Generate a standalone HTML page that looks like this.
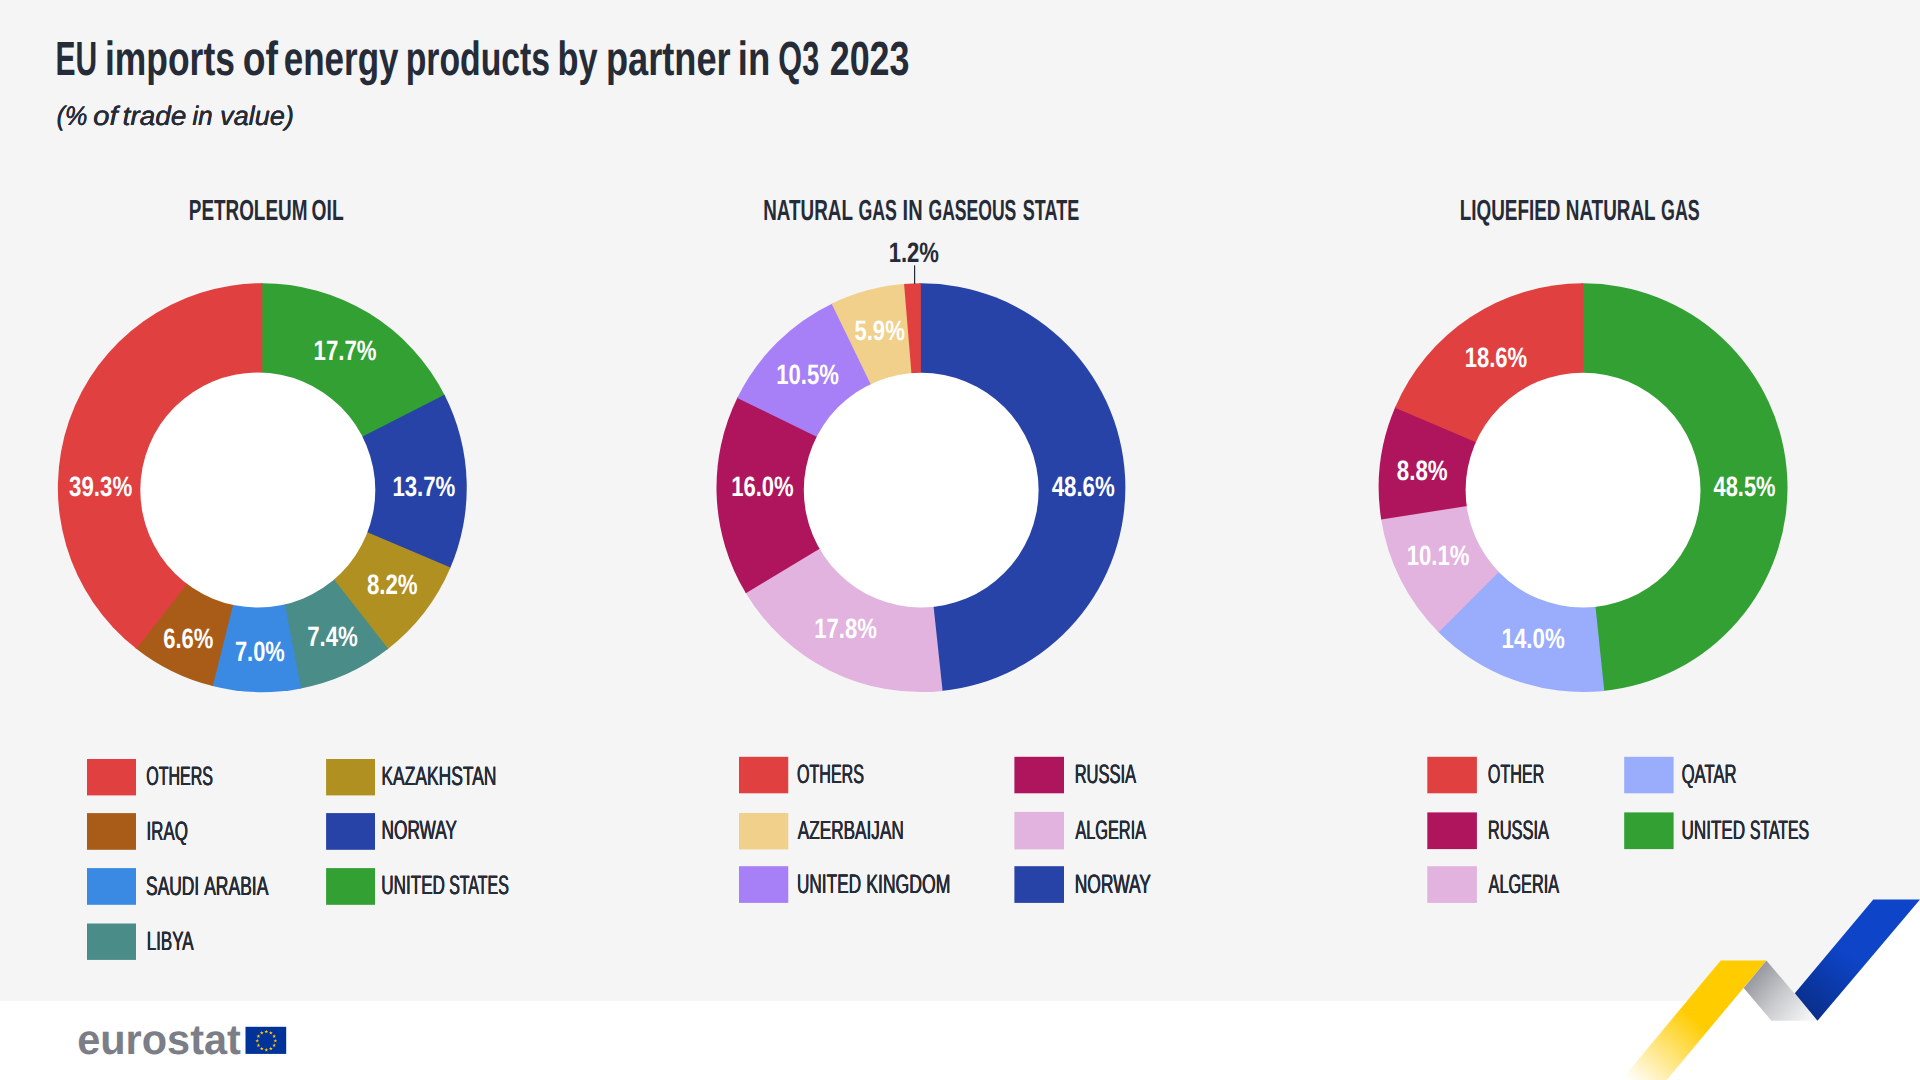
<!DOCTYPE html>
<html lang="en"><head><meta charset="utf-8"><title>EU imports of energy products by partner in Q3 2023</title>
<style>html,body{margin:0;padding:0}
body{width:1920px;height:1080px;position:relative;overflow:hidden;background:#f5f5f5;font-family:"Liberation Sans",sans-serif}
svg{position:absolute;left:0;top:0;display:block}
.g{position:absolute;left:0;top:0;margin:0;font-size:inherit;font-weight:inherit}
.g span{position:absolute;left:0;top:0;white-space:pre;line-height:1;transform-origin:0 0;text-rendering:geometricPrecision}
.h1{color:#262b38;font-weight:bold;font-style:normal}
.sub{color:#262b38;font-weight:normal;font-style:italic}
.ct{color:#262b38;font-weight:bold;font-style:normal}
.lb{color:#ffffff;font-weight:bold;font-style:normal}
.lbd{color:#262b38;font-weight:bold;font-style:normal}
.lg{color:#262b38;font-weight:normal;font-style:normal}
.eu{color:#7b7e87;font-weight:bold;font-style:normal}</style></head><body>
<svg width="1920" height="1080" viewBox="0 0 1920 1080">
<defs>
<linearGradient id="gy" gradientUnits="userSpaceOnUse" x1="1634" y1="1086" x2="1694" y2="1018"><stop offset="0" stop-color="#ffffff"/><stop offset="1" stop-color="#ffcc00"/></linearGradient>
<linearGradient id="gg" gradientUnits="userSpaceOnUse" x1="1750" y1="975" x2="1805" y2="1022"><stop offset="0" stop-color="#94959b"/><stop offset="0.5" stop-color="#c9cacd"/><stop offset="1" stop-color="#f3f4f4"/></linearGradient>
<linearGradient id="gb" gradientUnits="userSpaceOnUse" x1="1806" y1="1010" x2="1850" y2="955"><stop offset="0" stop-color="#0a2f8c"/><stop offset="1" stop-color="#0d44c8"/></linearGradient>
</defs>
<rect x="0" y="1001" width="1920" height="79" fill="#fff"/>
<polygon points="1920,899.5 1817.5,1020.7 1817.5,1080 1920,1080" fill="#fff"/>
<polygon points="1743.7,988.1 1720,1016 1775,1025" fill="#fff"/>
<polygon points="1720.7,960.4 1766.4,960.4 1666.7,1080 1621.3,1080" fill="url(#gy)"/>
<polygon points="1766.4,960.4 1817.5,1020.7 1771.4,1020.7 1743.7,988.1" fill="url(#gg)"/>
<polygon points="1873.3,899.5 1920,899.5 1817.5,1020.7 1794.8,993.3" fill="url(#gb)"/>
<g>
<path d="M262.30,487.65L260.87,283.20A204.45,204.45 0 0 1 445.11,396.11Z" fill="#33a033"/>
<path d="M262.30,487.65L444.47,394.83A204.45,204.45 0 0 1 449.93,568.85Z" fill="#2743a7"/>
<path d="M262.30,487.65L450.50,567.53A204.45,204.45 0 0 1 387.04,649.63Z" fill="#b09020"/>
<path d="M262.30,487.65L388.17,648.76A204.45,204.45 0 0 1 299.73,688.64Z" fill="#4a8c87"/>
<path d="M262.30,487.65L301.14,688.38A204.45,204.45 0 0 1 211.46,685.68Z" fill="#3a8ae4"/>
<path d="M262.30,487.65L212.84,686.03A204.45,204.45 0 0 1 135.31,647.88Z" fill="#a95c18"/>
<path d="M262.30,487.65L136.43,648.76A204.45,204.45 0 0 1 262.30,283.20Z" fill="#e04040"/>
<circle cx="257.8" cy="490.1" r="117.5" fill="#fff"/>
</g>
<g>
<path d="M920.90,487.65L919.47,283.25A204.40,204.40 0 0 1 941.20,691.04Z" fill="#2743a7"/>
<path d="M920.90,487.65L942.62,690.89A204.40,204.40 0 0 1 745.15,592.00Z" fill="#e1b3de"/>
<path d="M920.90,487.65L745.88,593.23A204.40,204.40 0 0 1 737.88,396.64Z" fill="#af155c"/>
<path d="M920.90,487.65L737.25,397.92A204.40,204.40 0 0 1 832.90,303.16Z" fill="#a780f7"/>
<path d="M920.90,487.65L831.62,303.78A204.40,204.40 0 0 1 905.50,283.83Z" fill="#f0d08a"/>
<path d="M920.90,487.65L904.08,283.94A204.40,204.40 0 0 1 920.90,283.25Z" fill="#e04040"/>
<circle cx="921.2" cy="490.1" r="117.4" fill="#fff"/>
</g>
<g>
<path d="M1583.05,487.65L1581.62,283.30A204.35,204.35 0 0 1 1602.88,691.04Z" fill="#33a033"/>
<path d="M1583.05,487.65L1604.30,690.89A204.35,204.35 0 0 1 1437.55,631.13Z" fill="#99adfc"/>
<path d="M1583.05,487.65L1438.55,632.15A204.35,204.35 0 0 1 1381.00,518.21Z" fill="#e1b3de"/>
<path d="M1583.05,487.65L1381.22,519.62A204.35,204.35 0 0 1 1395.51,406.49Z" fill="#af155c"/>
<path d="M1583.05,487.65L1394.94,407.80A204.35,204.35 0 0 1 1583.05,283.30Z" fill="#e04040"/>
<circle cx="1583.05" cy="490.1" r="117.45" fill="#fff"/>
</g>
<rect x="914.0" y="265.4" width="1.2" height="18.6" fill="#262b38"/>
<rect x="87.00" y="759.00" width="49.00" height="36.40" fill="#e04040"/>
<rect x="87.00" y="813.10" width="49.00" height="36.70" fill="#a95c18"/>
<rect x="87.00" y="868.10" width="49.00" height="36.70" fill="#3a8ae4"/>
<rect x="87.00" y="923.50" width="49.00" height="36.40" fill="#4a8c87"/>
<rect x="326.10" y="759.00" width="48.90" height="36.40" fill="#b09020"/>
<rect x="326.10" y="813.10" width="48.90" height="36.70" fill="#2743a7"/>
<rect x="326.10" y="868.10" width="48.90" height="36.70" fill="#33a033"/>
<rect x="739.00" y="756.80" width="49.25" height="36.50" fill="#e04040"/>
<rect x="739.00" y="813.00" width="49.25" height="36.40" fill="#f0d08a"/>
<rect x="739.00" y="866.20" width="49.25" height="36.70" fill="#a780f7"/>
<rect x="1014.40" y="756.80" width="49.60" height="36.50" fill="#af155c"/>
<rect x="1014.40" y="811.90" width="49.60" height="37.50" fill="#e1b3de"/>
<rect x="1014.40" y="866.20" width="49.60" height="36.70" fill="#2743a7"/>
<rect x="1427.30" y="756.80" width="49.60" height="36.50" fill="#e04040"/>
<rect x="1427.30" y="812.40" width="49.60" height="36.70" fill="#af155c"/>
<rect x="1427.30" y="866.20" width="49.60" height="36.70" fill="#e1b3de"/>
<rect x="1624.20" y="756.80" width="49.40" height="36.50" fill="#99adfc"/>
<rect x="1624.20" y="812.40" width="49.40" height="36.70" fill="#33a033"/>
<rect x="245.5" y="1026.8" width="40.7" height="27.1" fill="#003399"/>
<polygon points="266.30,1029.73 266.77,1031.08 268.20,1031.11 267.06,1031.98 267.48,1033.35 266.30,1032.53 265.12,1033.35 265.54,1031.98 264.40,1031.11 265.83,1031.08" fill="#ffcc00"/>
<polygon points="270.84,1030.95 271.31,1032.30 272.74,1032.33 271.60,1033.19 272.01,1034.56 270.84,1033.75 269.66,1034.56 270.07,1033.19 268.93,1032.33 270.36,1032.30" fill="#ffcc00"/>
<polygon points="274.15,1034.26 274.63,1035.62 276.06,1035.65 274.92,1036.51 275.33,1037.88 274.15,1037.06 272.98,1037.88 273.39,1036.51 272.25,1035.65 273.68,1035.62" fill="#ffcc00"/>
<polygon points="275.37,1038.80 275.84,1040.15 277.27,1040.18 276.13,1041.05 276.55,1042.42 275.37,1041.60 274.19,1042.42 274.61,1041.05 273.47,1040.18 274.90,1040.15" fill="#ffcc00"/>
<polygon points="274.15,1043.34 274.63,1044.69 276.06,1044.72 274.92,1045.58 275.33,1046.95 274.15,1046.13 272.98,1046.95 273.39,1045.58 272.25,1044.72 273.68,1044.69" fill="#ffcc00"/>
<polygon points="270.84,1046.65 271.31,1048.01 272.74,1048.04 271.60,1048.90 272.01,1050.27 270.84,1049.45 269.66,1050.27 270.07,1048.90 268.93,1048.04 270.36,1048.01" fill="#ffcc00"/>
<polygon points="266.30,1047.87 266.77,1049.22 268.20,1049.25 267.06,1050.12 267.48,1051.49 266.30,1050.67 265.12,1051.49 265.54,1050.12 264.40,1049.25 265.83,1049.22" fill="#ffcc00"/>
<polygon points="261.76,1046.65 262.24,1048.01 263.67,1048.04 262.53,1048.90 262.94,1050.27 261.76,1049.45 260.59,1050.27 261.00,1048.90 259.86,1048.04 261.29,1048.01" fill="#ffcc00"/>
<polygon points="258.45,1043.34 258.92,1044.69 260.35,1044.72 259.21,1045.58 259.62,1046.95 258.45,1046.13 257.27,1046.95 257.68,1045.58 256.54,1044.72 257.97,1044.69" fill="#ffcc00"/>
<polygon points="257.23,1038.80 257.70,1040.15 259.13,1040.18 257.99,1041.05 258.41,1042.42 257.23,1041.60 256.05,1042.42 256.47,1041.05 255.33,1040.18 256.76,1040.15" fill="#ffcc00"/>
<polygon points="258.45,1034.26 258.92,1035.62 260.35,1035.65 259.21,1036.51 259.62,1037.88 258.45,1037.06 257.27,1037.88 257.68,1036.51 256.54,1035.65 257.97,1035.62" fill="#ffcc00"/>
<polygon points="261.76,1030.95 262.24,1032.30 263.67,1032.33 262.53,1033.19 262.94,1034.56 261.76,1033.75 260.59,1034.56 261.00,1033.19 259.86,1032.33 261.29,1032.30" fill="#ffcc00"/>
</svg>
<h1 class="g h1"><span style="font-size:47.88px;transform:translate(55.38px,36.39px) scaleX(0.6265)">EU</span> <span style="font-size:47.88px;transform:translate(105.03px,36.39px) scaleX(0.7396)">imports</span> <span style="font-size:47.88px;transform:translate(242.73px,36.39px) scaleX(0.7803)">of</span> <span style="font-size:47.88px;transform:translate(283.70px,36.39px) scaleX(0.7315)">energy</span> <span style="font-size:47.88px;transform:translate(405.71px,36.39px) scaleX(0.7047)">products</span> <span style="font-size:47.88px;transform:translate(557.61px,36.39px) scaleX(0.7182)">by</span> <span style="font-size:47.88px;transform:translate(605.97px,36.39px) scaleX(0.7555)">partner</span> <span style="font-size:47.88px;transform:translate(737.77px,36.39px) scaleX(0.7620)">in</span> <span style="font-size:47.88px;transform:translate(778.31px,36.39px) scaleX(0.6399)">Q3</span> <span style="font-size:47.88px;transform:translate(829.66px,36.39px) scaleX(0.7504)">2023</span></h1>
<div class="g sub"><span style="font-size:26.86px;transform:translate(56.56px,103.44px) scaleX(0.9396);text-shadow:0.11px 0 0 currentColor,-0.11px 0 0 currentColor">(%</span> <span style="font-size:26.81px;transform:translate(93.15px,103.44px) scaleX(1.0957);text-shadow:0.09px 0 0 currentColor,-0.09px 0 0 currentColor">of</span> <span style="font-size:26.81px;transform:translate(122.61px,103.44px) scaleX(1.0440);text-shadow:0.10px 0 0 currentColor,-0.10px 0 0 currentColor">trade</span> <span style="font-size:26.82px;transform:translate(192.44px,103.44px) scaleX(0.9694);text-shadow:0.10px 0 0 currentColor,-0.10px 0 0 currentColor">in</span> <span style="font-size:26.84px;transform:translate(220.07px,103.44px) scaleX(1.0110);text-shadow:0.10px 0 0 currentColor,-0.10px 0 0 currentColor">value)</span></div>
<h2 class="g ct"><span style="font-size:29.17px;transform:translate(188.77px,196.99px) scaleX(0.6482)">PETROLEUM</span> <span style="font-size:29.17px;transform:translate(311.57px,196.99px) scaleX(0.6598)">OIL</span></h2>
<h2 class="g ct"><span style="font-size:29.17px;transform:translate(763.23px,196.99px) scaleX(0.6463)">NATURAL</span> <span style="font-size:29.17px;transform:translate(858.42px,196.99px) scaleX(0.6088)">GAS</span> <span style="font-size:29.17px;transform:translate(902.62px,196.99px) scaleX(0.6862)">IN</span> <span style="font-size:29.17px;transform:translate(928.48px,196.99px) scaleX(0.6023)">GASEOUS</span> <span style="font-size:29.17px;transform:translate(1022.84px,196.99px) scaleX(0.6169)">STATE</span></h2>
<h2 class="g ct"><span style="font-size:29.17px;transform:translate(1459.76px,196.99px) scaleX(0.6477)">LIQUEFIED</span> <span style="font-size:29.17px;transform:translate(1565.76px,196.99px) scaleX(0.6474)">NATURAL</span> <span style="font-size:29.17px;transform:translate(1661.07px,196.99px) scaleX(0.6113)">GAS</span></h2>
<div class="g lb"><span style="font-size:28.07px;transform:translate(313.58px,337.20px) scaleX(0.7911)">17.7%</span></div>
<div class="g lb"><span style="font-size:28.07px;transform:translate(392.39px,472.60px) scaleX(0.7915)">13.7%</span></div>
<div class="g lb"><span style="font-size:28.07px;transform:translate(366.89px,570.50px) scaleX(0.7927)">8.2%</span></div>
<div class="g lb"><span style="font-size:28.07px;transform:translate(307.17px,622.70px) scaleX(0.7917)">7.4%</span></div>
<div class="g lb"><span style="font-size:28.07px;transform:translate(234.97px,637.80px) scaleX(0.7779)">7.0%</span></div>
<div class="g lb"><span style="font-size:28.07px;transform:translate(163.17px,625.40px) scaleX(0.7840)">6.6%</span></div>
<div class="g lb"><span style="font-size:28.07px;transform:translate(69.08px,472.60px) scaleX(0.7927)">39.3%</span></div>
<div class="g lbd"><span style="font-size:28.07px;transform:translate(888.65px,238.70px) scaleX(0.7874)">1.2%</span></div>
<div class="g lb"><span style="font-size:28.07px;transform:translate(854.39px,316.80px) scaleX(0.7895)">5.9%</span></div>
<div class="g lb"><span style="font-size:28.07px;transform:translate(776.24px,361.00px) scaleX(0.7867)">10.5%</span></div>
<div class="g lb"><span style="font-size:28.07px;transform:translate(731.14px,472.50px) scaleX(0.7852)">16.0%</span></div>
<div class="g lb"><span style="font-size:28.07px;transform:translate(814.30px,614.90px) scaleX(0.7872)">17.8%</span></div>
<div class="g lb"><span style="font-size:28.07px;transform:translate(1051.63px,472.60px) scaleX(0.7934)">48.6%</span></div>
<div class="g lb"><span style="font-size:28.07px;transform:translate(1464.63px,343.80px) scaleX(0.7856)">18.6%</span></div>
<div class="g lb"><span style="font-size:28.07px;transform:translate(1396.78px,457.00px) scaleX(0.7949)">8.8%</span></div>
<div class="g lb"><span style="font-size:28.07px;transform:translate(1406.75px,542.10px) scaleX(0.7882)">10.1%</span></div>
<div class="g lb"><span style="font-size:28.07px;transform:translate(1501.59px,624.70px) scaleX(0.7926)">14.0%</span></div>
<div class="g lb"><span style="font-size:28.07px;transform:translate(1713.48px,472.70px) scaleX(0.7798)">48.5%</span></div>
<div class="g lg"><span style="font-size:26.56px;transform:translate(146.25px,763.20px) scaleX(0.6028);text-shadow:0.36px 0 0 currentColor,-0.36px 0 0 currentColor">OTHERS</span></div>
<div class="g lg"><span style="font-size:26.49px;transform:translate(146.42px,817.90px) scaleX(0.6405);text-shadow:0.34px 0 0 currentColor,-0.34px 0 0 currentColor">IRAQ</span></div>
<div class="g lg"><span style="font-size:26.48px;transform:translate(146.09px,873.00px) scaleX(0.6563);text-shadow:0.34px 0 0 currentColor,-0.34px 0 0 currentColor">SAUDI</span> <span style="font-size:26.48px;transform:translate(204.13px,873.00px) scaleX(0.6618);text-shadow:0.33px 0 0 currentColor,-0.33px 0 0 currentColor">ARABIA</span></div>
<div class="g lg"><span style="font-size:26.50px;transform:translate(146.72px,928.10px) scaleX(0.6402);text-shadow:0.34px 0 0 currentColor,-0.34px 0 0 currentColor">LIBYA</span></div>
<div class="g lg"><span style="font-size:26.52px;transform:translate(381.40px,763.10px) scaleX(0.6580);text-shadow:0.33px 0 0 currentColor,-0.33px 0 0 currentColor">KAZAKHSTAN</span></div>
<div class="g lg"><span style="font-size:26.51px;transform:translate(381.56px,816.70px) scaleX(0.6503);text-shadow:0.34px 0 0 currentColor,-0.34px 0 0 currentColor">NORWAY</span></div>
<div class="g lg"><span style="font-size:26.52px;transform:translate(381.26px,871.70px) scaleX(0.6452);text-shadow:0.34px 0 0 currentColor,-0.34px 0 0 currentColor">UNITED</span> <span style="font-size:26.56px;transform:translate(449.20px,871.70px) scaleX(0.6000);text-shadow:0.37px 0 0 currentColor,-0.37px 0 0 currentColor">STATES</span></div>
<div class="g lg"><span style="font-size:26.53px;transform:translate(797.06px,761.10px) scaleX(0.6050);text-shadow:0.36px 0 0 currentColor,-0.36px 0 0 currentColor">OTHERS</span></div>
<div class="g lg"><span style="font-size:26.33px;transform:translate(797.78px,817.40px) scaleX(0.6528);text-shadow:0.34px 0 0 currentColor,-0.34px 0 0 currentColor">AZERBAIJAN</span></div>
<div class="g lg"><span style="font-size:27.04px;transform:translate(796.89px,871.00px) scaleX(0.6382);text-shadow:0.34px 0 0 currentColor,-0.34px 0 0 currentColor">UNITED</span> <span style="font-size:26.48px;transform:translate(866.26px,871.00px) scaleX(0.6648);text-shadow:0.33px 0 0 currentColor,-0.33px 0 0 currentColor">KINGDOM</span></div>
<div class="g lg"><span style="font-size:26.51px;transform:translate(1074.67px,761.10px) scaleX(0.6227);text-shadow:0.35px 0 0 currentColor,-0.35px 0 0 currentColor">RUSSIA</span></div>
<div class="g lg"><span style="font-size:26.55px;transform:translate(1075.38px,817.40px) scaleX(0.6139);text-shadow:0.36px 0 0 currentColor,-0.36px 0 0 currentColor">ALGERIA</span></div>
<div class="g lg"><span style="font-size:26.52px;transform:translate(1074.73px,871.00px) scaleX(0.6576);text-shadow:0.33px 0 0 currentColor,-0.33px 0 0 currentColor">NORWAY</span></div>
<div class="g lg"><span style="font-size:26.50px;transform:translate(1487.86px,761.10px) scaleX(0.6082);text-shadow:0.36px 0 0 currentColor,-0.36px 0 0 currentColor">OTHER</span></div>
<div class="g lg"><span style="font-size:26.52px;transform:translate(1487.88px,817.30px) scaleX(0.6182);text-shadow:0.36px 0 0 currentColor,-0.36px 0 0 currentColor">RUSSIA</span></div>
<div class="g lg"><span style="font-size:26.52px;transform:translate(1488.62px,871.30px) scaleX(0.6125);text-shadow:0.36px 0 0 currentColor,-0.36px 0 0 currentColor">ALGERIA</span></div>
<div class="g lg"><span style="font-size:26.49px;transform:translate(1681.63px,761.10px) scaleX(0.6287);text-shadow:0.35px 0 0 currentColor,-0.35px 0 0 currentColor">QATAR</span></div>
<div class="g lg"><span style="font-size:26.48px;transform:translate(1681.51px,817.30px) scaleX(0.6455);text-shadow:0.34px 0 0 currentColor,-0.34px 0 0 currentColor">UNITED</span> <span style="font-size:26.52px;transform:translate(1749.90px,817.30px) scaleX(0.5967);text-shadow:0.37px 0 0 currentColor,-0.37px 0 0 currentColor">STATES</span></div>
<div class="g eu"><span style="font-size:42.28px;transform:translate(77.18px,1018.50px) scaleX(0.9817)">eurostat</span></div>
</body></html>
